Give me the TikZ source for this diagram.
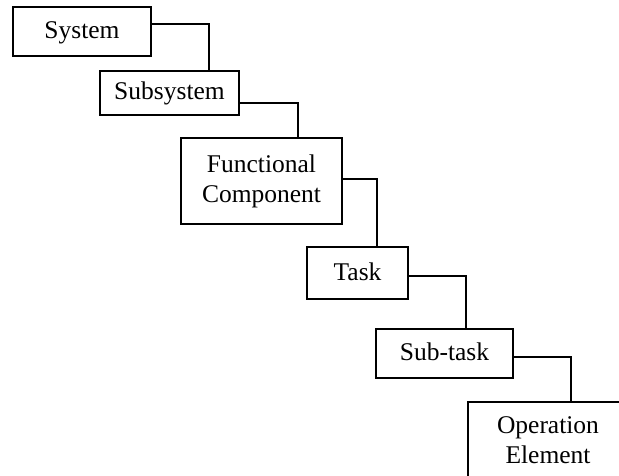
\documentclass[tikz,border=0pt]{standalone}
\usepackage{fontspec}
\setmainfont{Liberation Serif}
\begin{document}
\begin{tikzpicture}[x=1pt,y=-1pt,
  boxbase/.style={draw, line width=2pt, rectangle, inner sep=0pt, outer sep=0pt, align=center,
    font=\fontsize{25.5}{30}\selectfont},
  box/.style={boxbase, text height=19pt, text depth=5pt},
  boxtwo/.style={boxbase},
  link/.style={draw, line width=2pt}]
\useasboundingbox (0,0) rectangle (619,476);
\clip (0,0) rectangle (619,476);
\fill[white] (0,0) rectangle (619,476);
\node[box, minimum width=138pt, minimum height=49pt] (sys) at (82,31.5) {System};
\node[box, minimum width=139pt, minimum height=44pt] (sub) at (169.5,93) {Subsystem};
\node[boxtwo, minimum width=161pt, minimum height=86pt] (fc) at (261.5,181) {Functional\\Component};
\node[box, minimum width=101pt, minimum height=52pt] (task) at (357.5,273) {Task};
\node[box, minimum width=137pt, minimum height=49pt] (subt) at (444.5,353.5) {Sub-task};
\node[boxtwo, minimum width=160pt, minimum height=76pt] (oe) at (548,440) {Operation\\Element};
\draw[link] ([yshift=7.5pt]sys.east) -| ([xshift=39.5pt]sub.north);
\draw[link] ([yshift=-10pt]sub.east) -| ([xshift=36.5pt]fc.north);
\draw[link] ([yshift=2pt]fc.east) -| ([xshift=19pt]task.north);
\draw[link] ([yshift=-3pt]task.east) -| ([xshift=21pt]subt.north);
\draw[link] ([yshift=-3.5pt]subt.east) -| ([xshift=23pt]oe.north);
\end{tikzpicture}
\end{document}
